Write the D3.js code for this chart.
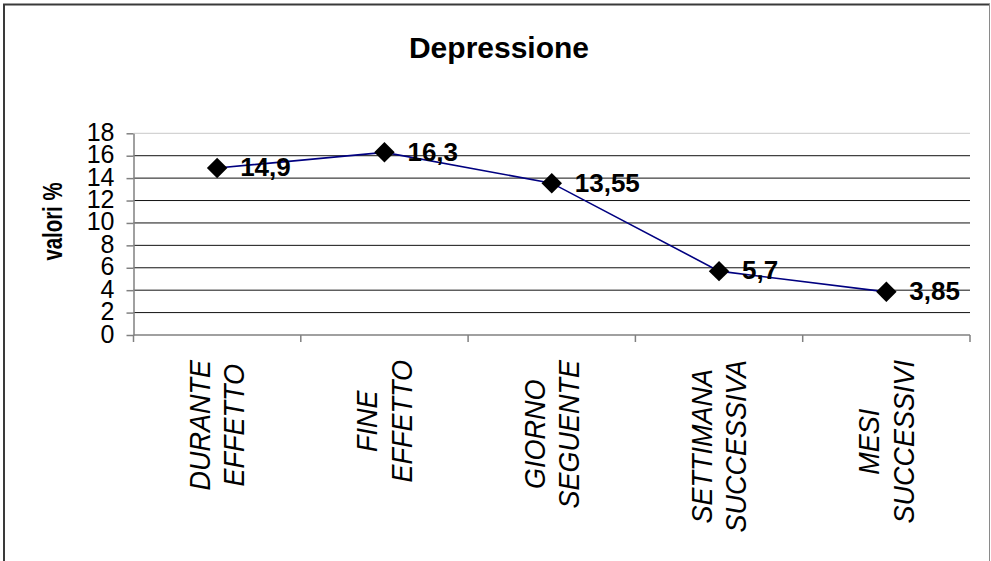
<!DOCTYPE html>
<html>
<head>
<meta charset="utf-8">
<script src="https://cdn.jsdelivr.net/npm/d3@7"></script>
<style>
  html, body { margin: 0; padding: 0; background: #fff; }
  svg { display: block; font-family: Arial, "Liberation Sans", sans-serif; }
</style>
</head>
<body>
<svg id="chart" width="991" height="561"></svg>
<script>
// Depression percentages over time
const title = "Depressione";
const yTitle = "valori %";
const categories = [
  ["DURANTE", "EFFETTO"],
  ["FINE", "EFFETTO"],
  ["GIORNO", "SEGUENTE"],
  ["SETTIMANA", "SUCCESSIVA"],
  ["MESI", "SUCCESSIVI"]
];
const values = [14.9, 16.3, 13.55, 5.7, 3.85];
const valueLabels = ["14,9", "16,3", "13,55", "5,7", "3,85"];
const yTicks = [0, 2, 4, 6, 8, 10, 12, 14, 16, 18];

const svg = d3.select("#chart");
const W = 991, H = 561;
const plot = { left: 133.5, right: 970, top: 133.3, bottom: 335 };

// Frame around the chart area (no bottom edge)
svg.append("line").attr("x1", 3).attr("x2", 990).attr("y1", 4.5).attr("y2", 4.5)
  .attr("stroke", "#3a3a3a").attr("stroke-width", 2);
svg.append("line").attr("x1", 4).attr("x2", 4).attr("y1", 4).attr("y2", H)
  .attr("stroke", "#3a3a3a").attr("stroke-width", 2);
svg.append("line").attr("x1", 989.5).attr("x2", 989.5).attr("y1", 4).attr("y2", H)
  .attr("stroke", "#8a8a8a").attr("stroke-width", 1);

// Title
svg.append("text").attr("x", 499).attr("y", 57.5)
  .attr("text-anchor", "middle").attr("font-weight", "bold")
  .attr("font-size", 30).attr("fill", "#000").text(title);

const x = d3.scaleBand().domain(d3.range(categories.length))
  .range([plot.left, plot.right]).paddingInner(0).paddingOuter(0);
const y = d3.scaleLinear().domain([0, 18]).range([plot.bottom, plot.top]);

// Horizontal gridlines
svg.append("g").selectAll("line").data(yTicks.filter(d => d > 0)).join("line")
  .attr("x1", plot.left).attr("x2", plot.right)
  .attr("y1", d => y(d)).attr("y2", d => y(d))
  .attr("stroke", d => d === 18 ? "#c8c8c8" : "#111")
  .attr("stroke-width", 1);

// Y axis
const yAxis = svg.append("g").attr("transform", `translate(${plot.left},0)`)
  .call(d3.axisLeft(y).tickValues(yTicks).tickSize(7).tickSizeOuter(0).tickPadding(12));
yAxis.select(".domain").attr("stroke", "#808080").attr("stroke-width", 1.5);
yAxis.selectAll(".tick line").attr("stroke", "#808080").attr("stroke-width", 1.5);
yAxis.selectAll(".tick text").attr("font-size", 25).attr("fill", "#000")
  .attr("font-family", "Arial, 'Liberation Sans', sans-serif").attr("dy", "0.28em");

// X axis with ticks at category boundaries
const xAxisG = svg.append("g");
xAxisG.append("line").attr("x1", plot.left).attr("x2", plot.right)
  .attr("y1", plot.bottom).attr("y2", plot.bottom)
  .attr("stroke", "#808080").attr("stroke-width", 1.5);
const boundaries = d3.range(categories.length + 1).map(i => i < categories.length ? x(i) : x(i - 1) + x.bandwidth());
xAxisG.selectAll("line.tick").data(boundaries).join("line").attr("class", "tick")
  .attr("x1", d => d).attr("x2", d => d)
  .attr("y1", plot.bottom).attr("y2", plot.bottom + 7)
  .attr("stroke", "#808080").attr("stroke-width", 1.5);

// Rotated, italic category labels
const labelTop = 360;
const lineGap = 34.5;
categories.forEach((lines, i) => {
  const cx = x(i) + x.bandwidth() / 2;
  const g = svg.append("g");
  const texts = lines.map((t, j) => g.append("text")
    .attr("font-size", 27).attr("font-style", "italic").attr("fill", "#000")
    .attr("text-anchor", "middle").text(t));
  const maxLen = d3.max(texts, t => t.node().getComputedTextLength());
  texts.forEach((t, j) => {
    const bx = cx + (j - (lines.length - 1) / 2) * lineGap + 10;
    const cy = labelTop + maxLen / 2;
    t.attr("transform", `translate(${bx},${cy}) rotate(-90) scale(1,1.12)`);
  });
});

// Y axis title
svg.append("text")
  .attr("transform", "translate(62,221.5) rotate(-90)")
  .attr("text-anchor", "middle").attr("font-weight", "bold")
  .attr("font-size", 28).attr("textLength", 78).attr("lengthAdjust", "spacingAndGlyphs")
  .attr("fill", "#000").text(yTitle);

// Series line
const cxOf = i => x(i) + x.bandwidth() / 2;
svg.append("path").datum(values)
  .attr("d", d3.line().x((d, i) => cxOf(i)).y(d => y(d)))
  .attr("fill", "none").attr("stroke", "#000080").attr("stroke-width", 1.6);

// Diamond markers
const diamond = d3.symbol().type(d3.symbolSquare).size(210);
svg.append("g").selectAll("path").data(values).join("path")
  .attr("d", diamond)
  .attr("transform", (d, i) => `translate(${cxOf(i)},${y(d)}) rotate(45)`)
  .attr("fill", "#000");

// Value labels
svg.append("g").selectAll("text").data(values).join("text")
  .attr("x", (d, i) => cxOf(i) + 23)
  .attr("y", d => y(d) - 1)
  .attr("dy", "0.36em")
  .attr("font-size", 26).attr("font-weight", "bold").attr("fill", "#000")
  .text((d, i) => valueLabels[i]);
</script>
</body>
</html>
